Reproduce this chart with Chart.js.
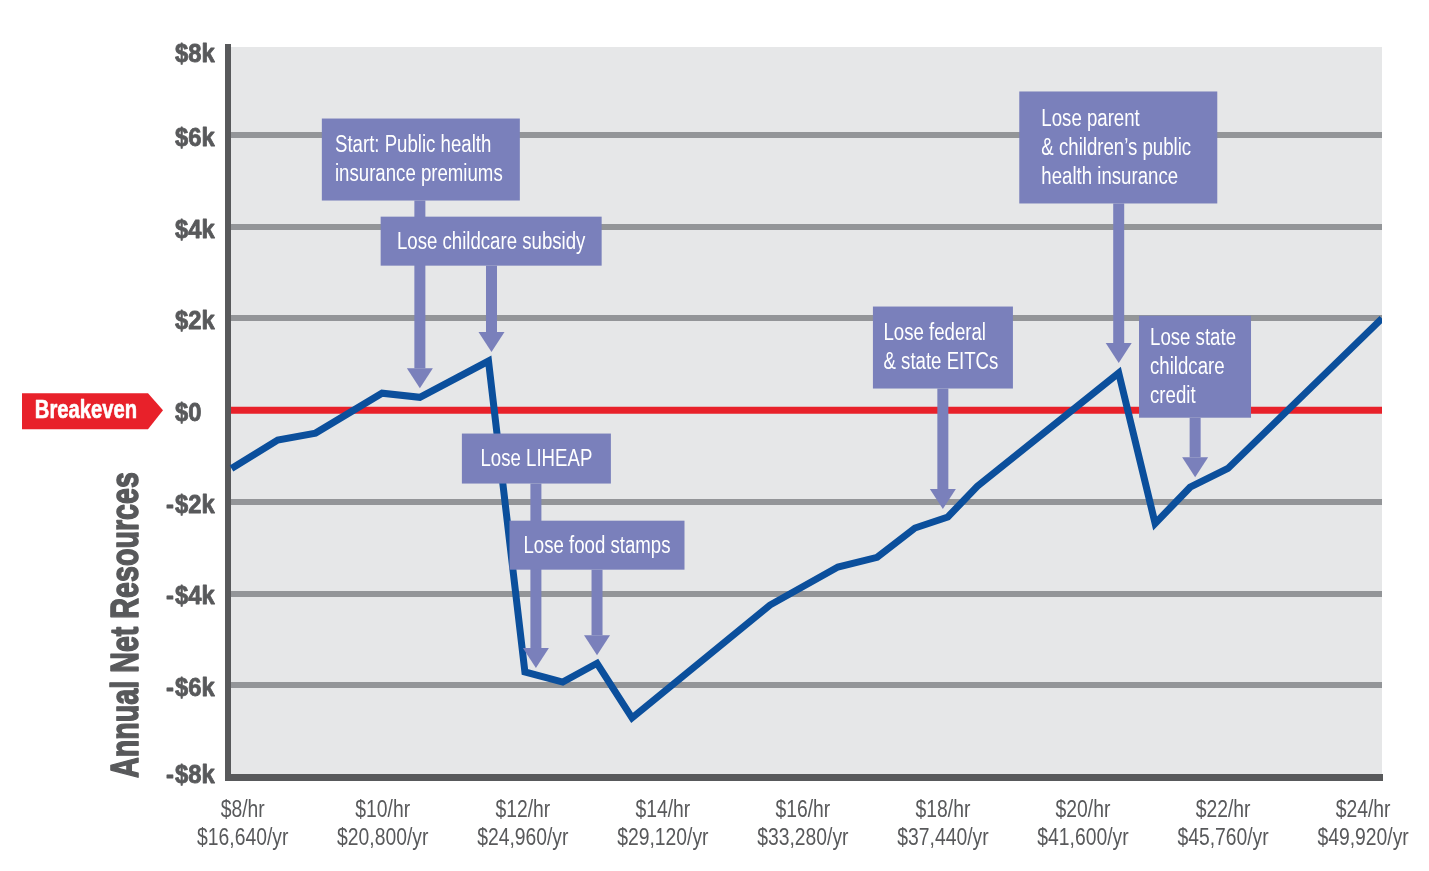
<!DOCTYPE html>
<html lang="en">
<head>
<meta charset="UTF-8">
<title>Annual Net Resources by Wage</title>
<script src="https://cdn.jsdelivr.net/npm/chart.js"></script>
<style>
    html, body { margin: 0; padding: 0; background: #ffffff; }
    #wrap { width: 1429px; height: 871px; position: relative; }
</style>
</head>
<body>
<div id="wrap"><canvas id="cliffChart"></canvas></div>
<script>
// hourly wage ($/hr) of each point on the line
const wages = [7.84, 8.5, 9.04, 9.99, 10.53, 11.51, 12.03, 12.57, 13.06, 13.56, 15.53,
               16.5, 17.06, 17.6, 18.07, 18.49, 20.51, 21.03, 21.53, 22.07, 24.27];
// annual net resources ($) at each wage
const netResources = [-1270, -650, -500, 370, 280, 1070, -5710, -5930, -5520, -6710, -4250,
                      -3420, -3210, -2570, -2330, -1660, 810, -2470, -1680, -1270, 2000];
// axis ticks
const wageTicks = [8, 10, 12, 14, 16, 18, 20, 22, 24];
const resourceTicks = [8000, 6000, 4000, 2000, 0, -2000, -4000, -6000, -8000];
const hoursPerYear = 2080;

const yAxisTitle = 'Annual Net Resources';
const breakevenLabel = 'Breakeven';

// callout texts and the point (index in the series) each arrow points to
const calloutText = [
    ['Start: Public health', 'insurance premiums'],
    ['Lose childcare subsidy'],
    ['Lose LIHEAP'],
    ['Lose food stamps'],
    ['Lose federal', '& state EITCs'],
    ['Lose parent', '& children\u2019s public', 'health insurance'],
    ['Lose state', 'childcare', 'credit']
];
const calloutPoint = [4, 5, 6, 8, 14, 16, 18];

// where the callout boxes sit (box corner in data units, size in px)
const calloutLayout = [
    { x: 9.13,  y: 6360,  w: 198, h: 82,  dx: 0,  gap: 9 },
    { x: 9.97,  y: 4220,  w: 221, h: 49,  dx: 3,  gap: 9 },
    { x: 11.13, y: -510,  w: 149, h: 50,  dx: 11, gap: 4 },
    { x: 11.81, y: -2410, w: 175, h: 49,  dx: 0,  gap: 8 },
    { x: 17.0,  y: 2260,  w: 140, h: 82,  dx: -5, gap: 8 },
    { x: 19.09, y: 6950,  w: 198, h: 112, dx: 0,  gap: 10 },
    { x: 20.8,  y: 2060,  w: 112, h: 102, dx: 5,  gap: 10 }
];

// no condensed face installed, so text is squeezed horizontally
const FONT = "'Liberation Sans', Arial, sans-serif";
const GREY_TEXT = '#58595b';
const CALLOUT_BG = '#7a80bb';
const RED = '#e8212a';

function squeezeText(ctx, text, x, y, align, sx, heavy) {
    ctx.save();
    ctx.translate(x, y);
    ctx.scale(sx, 1);
    ctx.textAlign = align;
    ctx.fillText(text, 0, 0);
    if (heavy) {
        // thicken strokes a little, the original face is heavier
        ctx.strokeStyle = ctx.fillStyle;
        ctx.lineWidth = heavy;
        ctx.lineJoin = 'round';
        ctx.strokeText(text, 0, 0);
    }
    ctx.restore();
}

const plotBackground = {
    id: 'plotBackground',
    beforeDraw(chart) {
        const { ctx, chartArea: a } = chart;
        ctx.save();
        ctx.fillStyle = '#e6e7e8';
        ctx.fillRect(a.left, a.top, a.right - a.left, a.bottom - a.top);
        ctx.restore();
    }
};

const breakevenLine = {
    id: 'breakevenLine',
    beforeDatasetsDraw(chart) {
        const { ctx, chartArea: a, scales: { y } } = chart;
        const py = y.getPixelForValue(0);
        ctx.save();
        ctx.strokeStyle = RED;
        ctx.lineWidth = 7;
        ctx.beginPath();
        ctx.moveTo(a.left + 3, py);
        ctx.lineTo(a.right, py);
        ctx.stroke();
        ctx.restore();
    }
};

const axisLabels = {
    id: 'axisLabels',
    afterDraw(chart) {
        const { ctx, chartArea: a, scales: { x, y } } = chart;
        ctx.save();
        ctx.fillStyle = GREY_TEXT;
        ctx.textBaseline = 'middle';

        // y tick labels, "$" lined up
        ctx.font = 'bold 25px ' + FONT;
        const dollarX = a.left - 53;
        resourceTicks.forEach(v => {
            const py = Math.min(Math.max(y.getPixelForValue(v) + 4, a.top + 8), a.bottom - 1);
            const txt = '$' + Math.abs(v / 1000) + (v === 0 ? '' : 'k');
            squeezeText(ctx, txt, dollarX, py, 'left', 0.95, 0.8);
            if (v < 0) squeezeText(ctx, '-', dollarX - 1, py, 'right', 0.95, 0.8);
        });

        // x tick labels, two lines
        ctx.font = '23px ' + FONT;
        wageTicks.forEach(v => {
            const px = x.getPixelForValue(v);
            squeezeText(ctx, '$' + v + '/hr', px, a.bottom + 34, 'center', 0.84);
            squeezeText(ctx, '$' + (v * hoursPerYear).toLocaleString('en-US') + '/yr', px, a.bottom + 62, 'center', 0.84);
        });

        // axis title
        ctx.save();
        ctx.translate(127, 625);
        ctx.rotate(-Math.PI / 2);
        ctx.font = 'bold 39px ' + FONT;
        squeezeText(ctx, yAxisTitle, 0, 0, 'center', 0.735, 1.6);
        ctx.restore();

        // breakeven tag
        const p0 = y.getPixelForValue(0);
        ctx.fillStyle = RED;
        ctx.beginPath();
        ctx.moveTo(22, p0 - 17);
        ctx.lineTo(148, p0 - 17);
        ctx.lineTo(163, p0);
        ctx.lineTo(148, p0 + 19);
        ctx.lineTo(22, p0 + 19);
        ctx.closePath();
        ctx.fill();
        ctx.fillStyle = '#ffffff';
        ctx.font = 'bold 25px ' + FONT;
        squeezeText(ctx, breakevenLabel, 86, p0 + 1, 'center', 0.81, 0.6);

        ctx.restore();
    }
};

const callouts = {
    id: 'callouts',
    afterDraw(chart) {
        const { ctx, scales: { x, y } } = chart;
        const pts = chart.getDatasetMeta(0).data;
        const sx = 0.81;
        ctx.save();
        ctx.fillStyle = CALLOUT_BG;

        // arrows first, boxes on top
        calloutLayout.forEach((c, i) => {
            const top = y.getPixelForValue(c.y);
            const pt = pts[calloutPoint[i]];
            const ax = pt.x + c.dx;
            const tip = pt.y - c.gap;
            const from = top + c.h;
            ctx.fillRect(ax - 5.5, from, 11, tip - 20 - from);
            ctx.beginPath();
            ctx.moveTo(ax - 13, tip - 20);
            ctx.lineTo(ax + 13, tip - 20);
            ctx.lineTo(ax, tip);
            ctx.closePath();
            ctx.fill();
        });

        ctx.font = '23px ' + FONT;
        ctx.textBaseline = 'middle';
        calloutLayout.forEach((c, i) => {
            const left = x.getPixelForValue(c.x);
            const top = y.getPixelForValue(c.y);
            ctx.fillStyle = CALLOUT_BG;
            ctx.fillRect(left, top, c.w, c.h);

            ctx.fillStyle = '#ffffff';
            const lines = calloutText[i];
            const lh = 29;
            const midY = top + c.h / 2;
            if (lines.length === 1) {
                squeezeText(ctx, lines[0], left + c.w / 2, midY + 1, 'center', sx);
            } else {
                const widest = Math.max(...lines.map(l => ctx.measureText(l).width)) * sx;
                const tx = left + (c.w - widest) / 2 - 2;
                lines.forEach((l, k) => {
                    squeezeText(ctx, l, tx, midY + (k - (lines.length - 1) / 2) * lh + 1, 'left', sx);
                });
            }
        });
        ctx.restore();
    }
};

new Chart(document.getElementById('cliffChart').getContext('2d'), {
    type: 'line',
    data: {
        datasets: [{
            data: wages.map((w, i) => ({ x: w, y: netResources[i] })),
            borderColor: '#0b4f9c',
            borderWidth: 7,
            borderJoinStyle: 'miter',
            pointRadius: 0,
            tension: 0,
            fill: false
        }]
    },
    options: {
        responsive: true,
        maintainAspectRatio: false,
        animation: false,
        devicePixelRatio: 1,
        layout: { padding: { left: 228, right: 47, top: 47, bottom: 0 } },
        plugins: {
            legend: { display: false },
            tooltip: { enabled: false }
        },
        scales: {
            x: {
                type: 'linear',
                min: 7.79,
                max: 24.27,
                afterBuildTicks: scale => { scale.ticks = wageTicks.map(v => ({ value: v })); },
                afterFit: scale => { scale.height = 94; },
                grid: { display: false, drawTicks: false },
                border: { display: true, color: '#58595b', width: 7 },
                ticks: { display: false }
            },
            y: {
                type: 'linear',
                min: -8000,
                max: 7920,
                afterBuildTicks: scale => {
                    scale.ticks = resourceTicks.filter(v => v <= scale.max).map(v => ({ value: v }));
                },
                afterFit: scale => { scale.width = 0; },
                grid: {
                    drawTicks: false,
                    lineWidth: 6,
                    color: c => (c.tick && (c.tick.value === 0 || Math.abs(c.tick.value) === 8000)) ? 'rgba(0,0,0,0)' : '#939598'
                },
                border: { display: true, color: '#58595b', width: 6 },
                ticks: { display: false }
            }
        }
    },
    plugins: [plotBackground, breakevenLine, axisLabels, callouts]
});
</script>
</body>
</html>
